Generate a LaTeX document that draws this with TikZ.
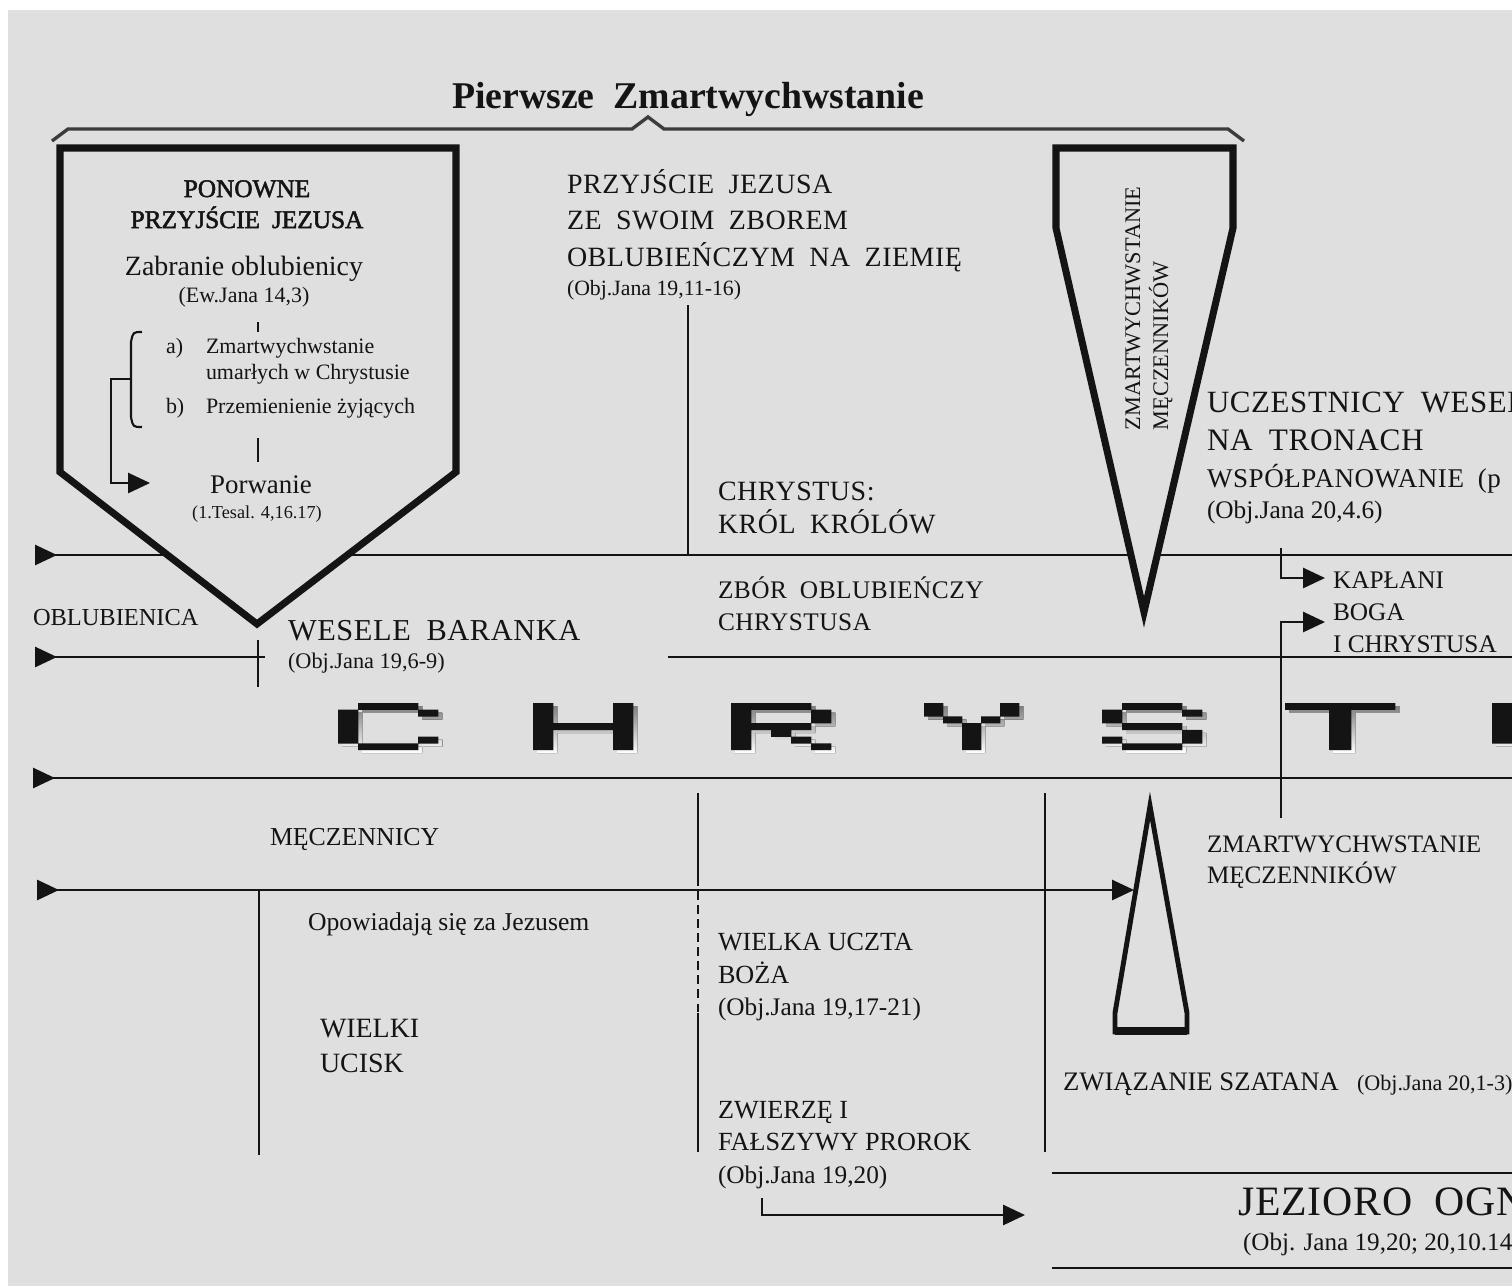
\documentclass[tikz,border=0pt]{standalone}
\usepackage{fontspec}
\setmainfont{Liberation Serif}
\newfontfamily\capsf{Liberation Serif}[WordSpace=1.9, LetterSpace=2]
\newfontfamily\semif{Liberation Serif}[WordSpace=1.9, FakeBold=2]
\usetikzlibrary{arrows.meta}
\definecolor{bg}{HTML}{DFDFDF}
\definecolor{ink}{HTML}{141414}
\definecolor{shade}{HTML}{9C9C9C}
\definecolor{bracec}{HTML}{3C3C3C}
\tikzset{
 lbl/.style={anchor=base west, inner sep=0pt, outer sep=0pt, text=ink},
 clbl/.style={anchor=base, inner sep=0pt, outer sep=0pt, text=ink},
 ln/.style={draw=ink, line width=1.2pt},
 lane/.style={ln, {Triangle[reversed,length=12.5pt,width=11.5pt]}-},
 lanearr/.style={ln, {Triangle[reversed,length=12.5pt,width=11.5pt]}-{Triangle[length=12.5pt,width=11.5pt]}},
 conn/.style={ln, -{Triangle[length=12.5pt,width=11.5pt]}},
 heavy/.style={draw=ink, line width=4pt, fill=bg, line join=miter},
 slim/.style={draw=ink, line width=2.8pt, fill=bg, line join=miter},
}
\newcommand\pixlet[3]{%
 \fill[shade] \foreach \cc/\rr in {#3}{ ({#1+\cc*#2+4},{703+\rr*6.72+3}) rectangle ++({#2+0.3},6.9) };
 \fill[ink] \foreach \cc/\rr in {#3}{ ({#1+\cc*#2},{703+\rr*6.72}) rectangle ++({#2+0.3},6.9) };
}
\begin{document}
\begin{tikzpicture}[x=0.02cm,y=-0.02cm]
\useasboundingbox (0,0) rectangle (1512,1286);
\clip (0,0) rectangle (1512,1286);
\fill[bg] (8,10) rectangle (1512,1286);

% ---------- coordinates ----------
\coordinate (aS) at (35,555);   \coordinate (aE) at (1512,555);
\coordinate (bS) at (35,657);   \coordinate (bE) at (265,657);
\coordinate (cS) at (668,657);  \coordinate (cE) at (1512,657);
\coordinate (dS) at (33,778);   \coordinate (dE) at (1512,778);
\coordinate (eS) at (37,890);   \coordinate (eE) at (1134,890);
\coordinate (tickT) at (258,640); \coordinate (tickB) at (258,687);
\coordinate (v1T) at (688,305); \coordinate (v1B) at (688,555);
\coordinate (v2T) at (259,890); \coordinate (v2B) at (259,1155);
\coordinate (v3T) at (698,793); \coordinate (v3a) at (698,877); \coordinate (v3b) at (698,1013); \coordinate (v3B) at (698,1152);
\coordinate (v4T) at (1045,793); \coordinate (v4B) at (1045,1152);
\coordinate (k1S) at (1281,548); \coordinate (k1E) at (1325,578);
\coordinate (k2S) at (1281,818); \coordinate (k2E) at (1325,622);
\coordinate (fS) at (762,1198);  \coordinate (fE) at (1025,1215);
\coordinate (j1S) at (1052,1173); \coordinate (j1E) at (1512,1173);
\coordinate (j2S) at (1052,1268); \coordinate (j2E) at (1512,1268);

% ---------- timeline lines ----------
\draw[lane] (aS) -- (aE);
\draw[lane] (bS) -- (bE);
\draw[ln] (tickT) -- (tickB);
\draw[ln] (cS) -- (cE);
\draw[lane] (dS) -- (dE);
\draw[lanearr] (eS) -- (eE);
\draw[ln] (v1T) -- (v1B);
\draw[ln] (v2T) -- (v2B);
\draw[ln] (v3T) -- (v3a);
\draw[ln, dash pattern=on 5pt off 3pt] (v3a) -- (v3b);
\draw[ln] (v3b) -- (v3B);
\draw[ln] (v4T) -- (v4B);
\draw[conn] (k1S) |- (k1E);
\draw[conn] (k2S) |- (k2E);
\draw[conn] (fS) |- (fE);
\draw[ln] (j1S) -- (j1E);
\draw[ln] (j2S) -- (j2E);

% ---------- brace ----------
\draw[bracec, line width=1.9pt, line join=miter]
  (52,141) -- (68,129) -- (632,129) -- (648,117) -- (664,129) -- (1228,129) -- (1244,141);

% ---------- heavy shapes ----------
\draw[heavy] (60,148) -- (456,148) -- (456,472) -- (257,624) -- (60,472) -- cycle;
\draw[heavy] (1056,148) -- (1233,148) -- (1233,228) -- (1144,612) -- (1056,228) -- cycle;
\draw[slim] (1150,806) -- (1187,1013) -- (1187,1032) -- (1115,1032) -- (1115,1013) -- cycle;
\draw[ink, line width=4.5pt] (1115,1031) -- (1187,1031);

% ---------- inside pentagon ----------
\draw[ln] (258,322) -- (258,332);
\draw[ln] (258,438) -- (258,462);
\draw[ln] (142,332) .. controls (133,332) .. (131,342) -- (131,417) .. controls (133,427) .. (142,427);
\draw[conn] (131,379) -- (111,379) -- (111,483) -- (150,483);

% ---------- pixel letters ----------
\pixlet{338}{20}{1/0,2/0,3/0,0/1,4/1,0/2,0/3,0/4,0/5,4/5,1/6,2/6,3/6}
\pixlet{533}{20}{0/0,4/0,0/1,4/1,0/2,4/2,0/3,1/3,2/3,3/3,4/3,0/4,4/4,0/5,4/5,0/6,4/6}
\pixlet{731}{20}{0/0,1/0,2/0,3/0,0/1,4/1,0/2,4/2,0/3,1/3,2/3,3/3,0/4,2/4,0/5,3/5,0/6,4/6}
\pixlet{924}{19}{0/0,4/0,0/1,4/1,1/2,3/2,2/3,2/4,2/5,2/6}
\pixlet{1102}{20}{1/0,2/0,3/0,0/1,4/1,0/2,1/3,2/3,3/3,4/4,0/5,4/5,1/6,2/6,3/6}
\pixlet{1285}{22}{0/0,1/0,2/0,3/0,4/0,2/1,2/2,2/3,2/4,2/5,2/6}
\pixlet{1492}{20}{0/0,4/0,0/1,4/1,0/2,4/2,0/3,4/3,0/4,4/4,0/5,4/5,1/6,2/6,3/6}

% ---------- texts ----------
\node[lbl, font=\fontsize{21.5pt}{24pt}\selectfont\bfseries] (title) at (452,108) {Pierwsze\ \ Zmartwychwstanie};

\node[clbl, font=\semif\fontsize{14.4pt}{17pt}\selectfont] (ponA) at (247,197) {PONOWNE};
\node[clbl, font=\semif\fontsize{14.4pt}{17pt}\selectfont] (ponB) at (247,228) {PRZYJŚCIE JEZUSA};
\node[clbl, font=\fontsize{15.9pt}{18pt}\selectfont] (zab) at (244,275) {Zabranie oblubienicy};
\node[clbl, font=\fontsize{12.5pt}{14pt}\selectfont] (ew) at (244,302) {(Ew.Jana 14,3)};
\node[lbl, font=\fontsize{12.5pt}{14pt}\selectfont] (la) at (166,353) {a)};
\node[lbl, font=\fontsize{12.5pt}{14pt}\selectfont] (za) at (206,353) {Zmartwychwstanie};
\node[lbl, font=\fontsize{12.5pt}{14pt}\selectfont] (zaa) at (206,379) {umarłych w Chrystusie};
\node[lbl, font=\fontsize{12.5pt}{14pt}\selectfont] (lb) at (166,413) {b)};
\node[lbl, font=\fontsize{12.5pt}{14pt}\selectfont] (pz) at (206,413) {Przemienienie żyjących};
\node[clbl, font=\fontsize{15.3pt}{18pt}\selectfont] (porw) at (261,493) {Porwanie};
\node[clbl, font=\fontsize{10.4pt}{12pt}\selectfont] (tes) at (257,518) {(1.Tesal. 4,16.17)};

\node[lbl, font=\capsf\fontsize{15.9pt}{18pt}\selectfont] (pj1) at (567,193) {PRZYJŚCIE JEZUSA};
\node[lbl, font=\capsf\fontsize{15.9pt}{18pt}\selectfont] (pj2) at (567,229) {ZE SWOIM ZBOREM};
\node[lbl, font=\capsf\fontsize{15.9pt}{18pt}\selectfont] (pj3) at (567,266) {OBLUBIEŃCZYM NA ZIEMIĘ};
\node[lbl, font=\fontsize{12.4pt}{14pt}\selectfont] (pj4) at (567,295) {(Obj.Jana 19,11-16)};

\node[lbl, font=\capsf\fontsize{15.9pt}{18pt}\selectfont] (kr1) at (718,500) {CHRYSTUS:};
\node[lbl, font=\capsf\fontsize{15.9pt}{18pt}\selectfont] (kr2) at (718,533) {KRÓL KRÓLÓW};
\node[lbl, font=\capsf\fontsize{14.4pt}{17pt}\selectfont] (zb1) at (718,598) {ZBÓR OBLUBIEŃCZY};
\node[lbl, font=\capsf\fontsize{14.4pt}{17pt}\selectfont] (zb2) at (718,630) {CHRYSTUSA};

\node[lbl, font=\capsf\fontsize{17.3pt}{20pt}\selectfont] (wes) at (288,640) {WESELE BARANKA};
\node[lbl, font=\fontsize{12.7pt}{14pt}\selectfont] (wesr) at (288,668) {(Obj.Jana 19,6-9)};
\node[lbl, font=\fontsize{13.9pt}{15pt}\selectfont] (obl) at (33,625) {OBLUBIENICA};

\node[lbl, font=\fontsize{14.7pt}{17pt}\selectfont] (mecz) at (270,845) {MĘCZENNICY};
\node[lbl, font=\fontsize{14.6pt}{17pt}\selectfont] (opow) at (308,930) {Opowiadają się za Jezusem};
\node[lbl, font=\fontsize{15.9pt}{18pt}\selectfont] (wk1) at (320,1037) {WIELKI};
\node[lbl, font=\fontsize{15.9pt}{18pt}\selectfont] (wk2) at (320,1072) {UCISK};

\node[lbl, font=\fontsize{14.9pt}{17pt}\selectfont] (wu1) at (718,950) {WIELKA UCZTA};
\node[lbl, font=\fontsize{14.9pt}{17pt}\selectfont] (wu2) at (718,983) {BOŻA};
\node[lbl, font=\fontsize{14.4pt}{17pt}\selectfont] (wu3) at (718,1015) {(Obj.Jana 19,17-21)};
\node[lbl, font=\fontsize{14.9pt}{17pt}\selectfont] (zw1) at (718,1118) {ZWIERZĘ I};
\node[lbl, font=\fontsize{14.9pt}{17pt}\selectfont] (zw2) at (718,1150) {FAŁSZYWY PROROK};
\node[lbl, font=\fontsize{14.4pt}{17pt}\selectfont] (zw3) at (718,1183) {(Obj.Jana 19,20)};

\node[lbl, font=\fontsize{15.2pt}{17pt}\selectfont] (szat) at (1063,1090) {ZWIĄZANIE SZATANA};
\node[lbl, font=\fontsize{12.6pt}{14pt}\selectfont] (szatr) at (1357,1090) {(Obj.Jana 20,1-3)};
\node[lbl, font=\capsf\fontsize{23.8pt}{26pt}\selectfont] (jez) at (1238,1215) {JEZIORO OGNIA};
\node[lbl, font=\fontsize{14.3pt}{16pt}\selectfont] (jezr) at (1243,1250) {(Obj. Jana 19,20; 20,10.14)};

\node[lbl, font=\capsf\fontsize{17.6pt}{20pt}\selectfont] (uc1) at (1207,412) {UCZESTNICY WESELA};
\node[lbl, font=\capsf\fontsize{17.8pt}{20pt}\selectfont] (uc2) at (1207,450) {NA TRONACH};
\node[lbl, font=\capsf\fontsize{15.4pt}{17pt}\selectfont] (uc3) at (1207,487) {WSPÓŁPANOWANIE (p};
\node[lbl, font=\fontsize{14.4pt}{17pt}\selectfont] (uc4) at (1207,518) {(Obj.Jana 20,4.6)};

\node[lbl, font=\fontsize{14.4pt}{17pt}\selectfont] (kap1) at (1333,588) {KAPŁANI};
\node[lbl, font=\fontsize{14.4pt}{17pt}\selectfont] (kap2) at (1333,620) {BOGA};
\node[lbl, font=\fontsize{14.4pt}{17pt}\selectfont] (kap3) at (1333,652) {I CHRYSTUSA};

\node[lbl, font=\fontsize{14.3pt}{16pt}\selectfont] (zm1) at (1207,852) {ZMARTWYCHWSTANIE};
\node[lbl, font=\fontsize{14.3pt}{16pt}\selectfont] (zm2) at (1207,883) {MĘCZENNIKÓW};

\node[lbl, rotate=90, font=\fontsize{12.7pt}{14pt}\selectfont] (rot1) at (1140,430) {ZMARTWYCHWSTANIE};
\node[lbl, rotate=90, font=\fontsize{12.7pt}{14pt}\selectfont] (rot2) at (1168,430) {MĘCZENNIKÓW};
\end{tikzpicture}
\end{document}
